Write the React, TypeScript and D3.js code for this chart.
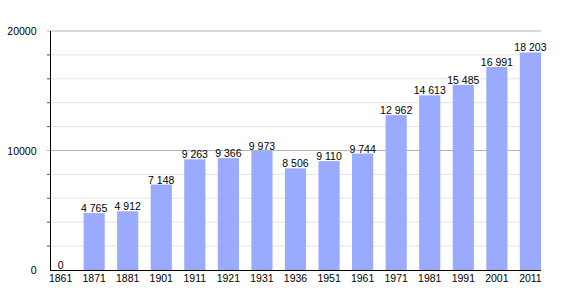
import React, { useRef, useEffect } from 'react';
import * as d3 from 'd3';

const years = ['1861', '1871', '1881', '1901', '1911', '1921', '1931', '1936', '1951', '1961', '1971', '1981', '1991', '2001', '2011'];
const population = [0, 4765, 4912, 7148, 9263, 9366, 9973, 8506, 9110, 9744, 12962, 14613, 15485, 16991, 18203];
const majorTicks = [0, 10000, 20000];
const minorTicks = [2000, 4000, 6000, 8000, 12000, 14000, 16000, 18000];

const fmt = (v: number) => {
    const s = String(v);
    return s.length > 3 ? s.slice(0, s.length - 3) + ' ' + s.slice(s.length - 3) : s;
};

const App = () => {
    const ref = useRef<SVGSVGElement>(null);

    useEffect(() => {
        const svg = d3.select(ref.current);
        svg.selectAll('*').remove();

        const left = 50, right = 541, top = 31, bottom = 270;

        const x = d3.scaleBand()
            .domain(years)
            .range([left, right])
            .paddingInner(0.37)
            .paddingOuter(0);

        const y = d3.scaleLinear()
            .domain([0, 20000])
            .range([bottom, top]);

        const font = 'Liberation Sans, Arial, sans-serif';

        // minor grid
        svg.append('g').selectAll('line')
            .data(minorTicks)
            .enter().append('line')
            .attr('x1', left - 3)
            .attr('x2', right)
            .attr('y1', d => y(d))
            .attr('y2', d => y(d))
            .style('stroke', '#e4e4e4')
            .style('stroke-width', 1);

        svg.append('g').selectAll('line')
            .data(minorTicks)
            .enter().append('line')
            .attr('x1', left - 3)
            .attr('x2', left)
            .attr('y1', d => y(d))
            .attr('y2', d => y(d))
            .style('stroke', '#555')
            .style('stroke-width', 1);

        // major grid
        svg.append('g').selectAll('line')
            .data(majorTicks.filter(d => d > 0))
            .enter().append('line')
            .attr('x1', left - 3)
            .attr('x2', right)
            .attr('y1', d => y(d))
            .attr('y2', d => y(d))
            .style('stroke', '#b4b4b4')
            .style('stroke-width', 1);

        svg.append('g').selectAll('text')
            .data(majorTicks)
            .enter().append('text')
            .attr('x', 36.5)
            .attr('y', d => y(d) + 4)
            .style('text-anchor', 'end')
            .style('font-family', font)
            .style('font-size', '10.5px')
            .style('fill', '#000')
            .text(d => d);

        // bars
        svg.append('g').selectAll('rect')
            .data(population)
            .enter().append('rect')
            .attr('x', (d, i) => x(years[i])!)
            .attr('y', d => y(d))
            .attr('width', x.bandwidth())
            .attr('height', d => bottom - y(d))
            .style('fill', '#99aaff');

        svg.append('g').selectAll('text')
            .data(population)
            .enter().append('text')
            .attr('x', (d, i) => x(years[i])! + x.bandwidth() / 2)
            .attr('y', d => y(d) - 1)
            .style('text-anchor', 'middle')
            .style('font-family', font)
            .style('font-size', '10.5px')
            .style('fill', '#000')
            .text(d => fmt(d));

        // axes
        svg.append('line')
            .attr('x1', left + 0.5).attr('x2', left + 0.5)
            .attr('y1', top).attr('y2', bottom)
            .style('stroke', '#000');
        svg.append('line')
            .attr('x1', left).attr('x2', right)
            .attr('y1', bottom + 0.5).attr('y2', bottom + 0.5)
            .style('stroke', '#000');

        svg.append('g').selectAll('text')
            .data(years)
            .enter().append('text')
            .attr('x', d => x(d)! + x.bandwidth() / 2)
            .attr('y', bottom + 12)
            .style('text-anchor', 'middle')
            .style('font-family', font)
            .style('font-size', '10.5px')
            .style('fill', '#000')
            .text(d => d);
    }, []);

    return (
        <svg ref={ref} width={570} height={300}
            style={{ position: 'absolute', left: 0, top: 0, background: '#fff' }} />
    );
};

export default App;
